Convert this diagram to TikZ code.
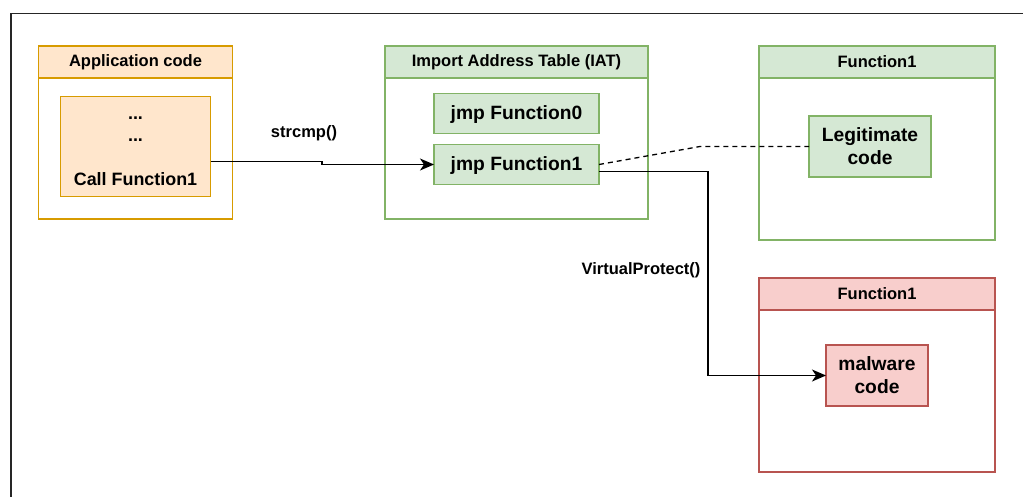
\documentclass[tikz,border=0pt]{standalone}
\usepackage{fontspec}
\setmainfont{Liberation Sans}
\usetikzlibrary{arrows.meta,calc}
\definecolor{orfill}{HTML}{FFE6CC}
\definecolor{orline}{HTML}{D79B00}
\definecolor{grfill}{HTML}{D5E8D4}
\definecolor{grline}{HTML}{82B366}
\definecolor{rdfill}{HTML}{F8CECC}
\definecolor{rdline}{HTML}{B85450}
\begin{document}
\begin{tikzpicture}[x=1pt,y=-1pt,line width=1.3pt,
  box/.style={draw,rectangle,anchor=north west,inner sep=0pt,outer sep=0pt},
  hdr/.style={box,minimum height=32pt,font=\bfseries\fontsize{16.5}{19.8}\selectfont},
  big/.style={font=\bfseries\fontsize{19.25}{23}\selectfont,align=center},
  lbl/.style={font=\bfseries\fontsize{16.5}{19.8}\selectfont,inner sep=0pt},
  orbox/.style={box,draw=orline,fill=orfill},
  grbox/.style={box,draw=grline,fill=grfill},
  rdbox/.style={box,draw=rdline,fill=rdfill},
  conn/.style={line width=1.3pt,draw=black},
  arr/.style={conn,-{Stealth[length=14pt,width=12pt,inset=4pt]}},
]
\useasboundingbox (0,0) rectangle (1023,497);
\begin{scope}
\clip (0,0) rectangle (1023,497);
\draw[line width=1.8pt,black!85] (11,13.5) rectangle (1040,515);
\end{scope}

% Application code
\node[box,draw=orline,fill=white,minimum width=194pt,minimum height=173pt] (app) at (38.5,46) {};
\node[hdr,draw=orline,fill=orfill,minimum width=194pt] (apph) at (38.5,46) {Application code};
\node[orbox,minimum width=150pt,minimum height=100pt] (appin) at (60.5,96.5) {};
\node[inner sep=0pt,font=\bfseries\fontsize{17.9}{21.5}\selectfont] (dots1) at (135.5,118) {...};
\node[inner sep=0pt,font=\bfseries\fontsize{17.9}{21.5}\selectfont] (dots2) at (135.5,140) {...};
\node[inner sep=0pt,font=\bfseries\fontsize{17.9}{21.5}\selectfont] (call) at (135.5,179) {Call Function1};

% IAT
\node[box,draw=grline,fill=white,minimum width=263pt,minimum height=173pt] (iat) at (385,46) {};
\node[hdr,draw=grline,fill=grfill,minimum width=263pt] (iath) at (385,46) {Import Address Table (IAT)};
\node[grbox,big,minimum width=165pt,minimum height=40pt,text depth=1pt] (jmp0) at (434,93.5) {jmp Function0};
\node[grbox,big,minimum width=165pt,minimum height=40pt,text depth=1pt] (jmp1) at (434,144.5) {jmp Function1};

% Function1 legit
\node[box,draw=grline,fill=white,minimum width=236pt,minimum height=194pt] (fa) at (759,46) {};
\node[hdr,draw=grline,fill=grfill,minimum width=236pt] (fah) at (759,46) {Function1};
\node[grbox,big,minimum width=122pt,minimum height=61pt] (legit) at (809,116) {Legitimate\\code};

% Function1 malware
\node[box,draw=rdline,fill=white,minimum width=236pt,minimum height=194pt] (fb) at (759,278) {};
\node[hdr,draw=rdline,fill=rdfill,minimum width=236pt] (fbh) at (759,278) {Function1};
\node[rdbox,big,minimum width=102pt,minimum height=61pt] (mal) at (826,345) {malware\\code};

% connectors
\coordinate (s1) at ($(appin.east)+(0,15)$);
\draw[arr] (s1) -- ++(111.5,0) |- (jmp1.west);
\node[lbl] (lstr) at (304,133) {strcmp()};

\coordinate (s2) at ($(jmp1.east)+(0,7)$);
\draw[arr] (s2) -- ++(109,0) |- (mal.west);
\node[lbl] (lvp) at (641,270) {VirtualProtect()};

\coordinate (bend) at (700,146.5);
\draw[conn,dashed,dash pattern=on 5pt off 4pt] (jmp1.east) -- (bend) -- (legit.west);
\end{tikzpicture}
\end{document}
